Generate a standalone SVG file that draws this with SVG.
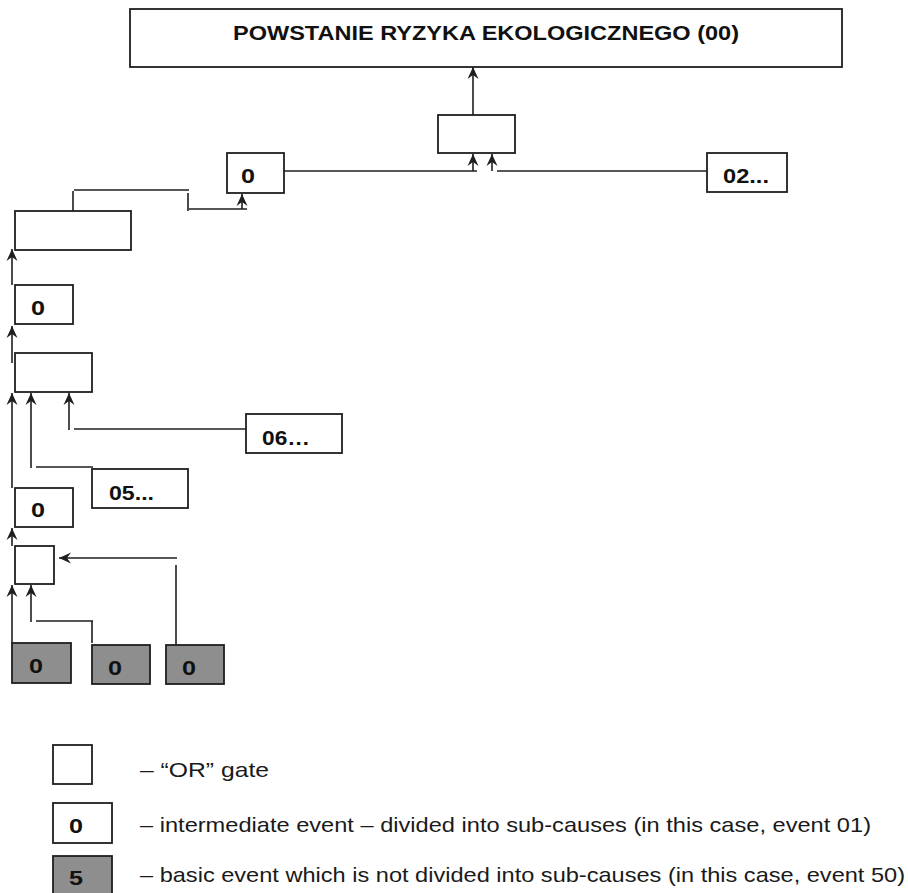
<svg xmlns="http://www.w3.org/2000/svg" width="908" height="893" viewBox="0 0 908 893">
<style>
.box{fill:#fff;stroke:#1f1f1f;stroke-width:1.8}
.basic{fill:#8e8e8e;stroke:#1f1f1f;stroke-width:1.8}
.ln{fill:none;stroke:#1f1f1f;stroke-width:1.6}
.b{font-family:"Liberation Sans",Arial,sans-serif;font-weight:bold;font-size:20px;fill:#111}
.d{font-family:"Liberation Sans",Arial,sans-serif;font-weight:bold;font-size:21px;fill:#111}
.t{font-family:"Liberation Sans",Arial,sans-serif;font-size:21px;fill:#1a1a1a}
</style>
<defs>
<marker id="ah" viewBox="0 0 12 12" markerWidth="12" markerHeight="12" markerUnits="userSpaceOnUse" refX="12" refY="6" orient="auto">
<path d="M12,6 L0,0.5 L4,6 L0,11.5 Z" fill="#1f1f1f"/>
</marker>
</defs>
<g id="top-event">
<rect class="box" x="130" y="9" width="712" height="58"/>
<text class="b" x="233" y="40" font-size="22" textLength="506" lengthAdjust="spacingAndGlyphs">POWSTANIE RYZYKA EKOLOGICZNEGO (00)</text>
</g>
<g id="gate1"><rect class="box" x="438" y="115" width="77" height="38"/></g>
<g id="event-01"><rect class="box" x="227" y="153" width="57" height="40"/><text class="d" x="241" y="183" textLength="14" lengthAdjust="spacingAndGlyphs">0</text></g>
<g id="event-02"><rect class="box" x="707" y="153" width="80" height="39"/><text class="b" x="723" y="183" textLength="46" lengthAdjust="spacingAndGlyphs">02...</text></g>
<g id="gate2"><rect class="box" x="15" y="211" width="116" height="39"/></g>
<g id="event-b"><rect class="box" x="15" y="285" width="58" height="39"/><text class="d" x="31" y="315" textLength="14" lengthAdjust="spacingAndGlyphs">0</text></g>
<g id="gate3"><rect class="box" x="15" y="353" width="77" height="39"/></g>
<g id="event-06"><rect class="box" x="246" y="414" width="96" height="39"/><text class="b" x="262" y="445" textLength="48" lengthAdjust="spacingAndGlyphs">06…</text></g>
<g id="event-05"><rect class="box" x="92" y="469" width="96" height="39"/><text class="b" x="109" y="500" textLength="45" lengthAdjust="spacingAndGlyphs">05...</text></g>
<g id="event-c"><rect class="box" x="15" y="488" width="58" height="39"/><text class="d" x="31" y="517" textLength="14" lengthAdjust="spacingAndGlyphs">0</text></g>
<g id="gate4"><rect class="box" x="15" y="546" width="39" height="38"/></g>
<g id="basic-1"><rect class="basic" x="12" y="643" width="59" height="40"/><text class="d" x="29" y="673" textLength="14" lengthAdjust="spacingAndGlyphs">0</text></g>
<g id="basic-2"><rect class="basic" x="92" y="645" width="58" height="39"/><text class="d" x="108" y="675" textLength="14" lengthAdjust="spacingAndGlyphs">0</text></g>
<g id="basic-3"><rect class="basic" x="166" y="645" width="58" height="39"/><text class="d" x="182" y="675" textLength="14" lengthAdjust="spacingAndGlyphs">0</text></g>
<g id="connectors">
<line class="ln" x1="473" y1="115" x2="473" y2="67" marker-end="url(#ah)"/>
<line class="ln" x1="284" y1="171" x2="477" y2="171"/>
<line class="ln" x1="473" y1="171" x2="473" y2="154" marker-end="url(#ah)"/>
<line class="ln" x1="497" y1="171" x2="707" y2="171"/>
<line class="ln" x1="492" y1="171" x2="492" y2="154" marker-end="url(#ah)"/>
<path class="ln" d="M73,211 V191 M74,190 H189 M188,193 V211 M189,209 H247"/>
<line class="ln" x1="242" y1="209" x2="242" y2="194" marker-end="url(#ah)"/>
<line class="ln" x1="12" y1="285" x2="12" y2="249" marker-end="url(#ah)"/>
<line class="ln" x1="12" y1="363" x2="12" y2="326" marker-end="url(#ah)"/>
<line class="ln" x1="246" y1="429" x2="74" y2="429"/>
<line class="ln" x1="69" y1="430" x2="69" y2="393" marker-end="url(#ah)"/>
<line class="ln" x1="93" y1="467" x2="36" y2="467"/>
<line class="ln" x1="31" y1="468" x2="31" y2="393" marker-end="url(#ah)"/>
<line class="ln" x1="12" y1="488" x2="12" y2="393" marker-end="url(#ah)"/>
<line class="ln" x1="12" y1="546" x2="12" y2="528" marker-end="url(#ah)"/>
<line class="ln" x1="176" y1="645" x2="176" y2="565"/>
<line class="ln" x1="177" y1="558" x2="59" y2="558" marker-end="url(#ah)"/>
<path class="ln" d="M92,643 V621 M93,621 H36"/>
<line class="ln" x1="31" y1="622" x2="31" y2="585" marker-end="url(#ah)"/>
<line class="ln" x1="12" y1="643" x2="12" y2="585" marker-end="url(#ah)"/>
</g>
<g id="legend">
<rect class="box" x="53" y="745" width="39" height="39" stroke-width="1.4"/>
<text class="t" x="140" y="777" textLength="129" lengthAdjust="spacingAndGlyphs">– “OR” gate</text>
<rect class="box" x="53" y="803" width="59" height="40" stroke-width="1.4"/>
<text class="d" x="69" y="833" textLength="14" lengthAdjust="spacingAndGlyphs">0</text>
<text class="t" x="140" y="832" textLength="731" lengthAdjust="spacingAndGlyphs">– intermediate event – divided into sub-causes (in this case, event 01)</text>
<rect class="basic" x="53" y="856" width="59" height="40" stroke-width="1.4"/>
<text class="d" x="69" y="885" textLength="14" lengthAdjust="spacingAndGlyphs">5</text>
<text class="t" x="140" y="882" textLength="765" lengthAdjust="spacingAndGlyphs">– basic event which is not divided into sub-causes (in this case, event 50)</text>
</g>
</svg>
